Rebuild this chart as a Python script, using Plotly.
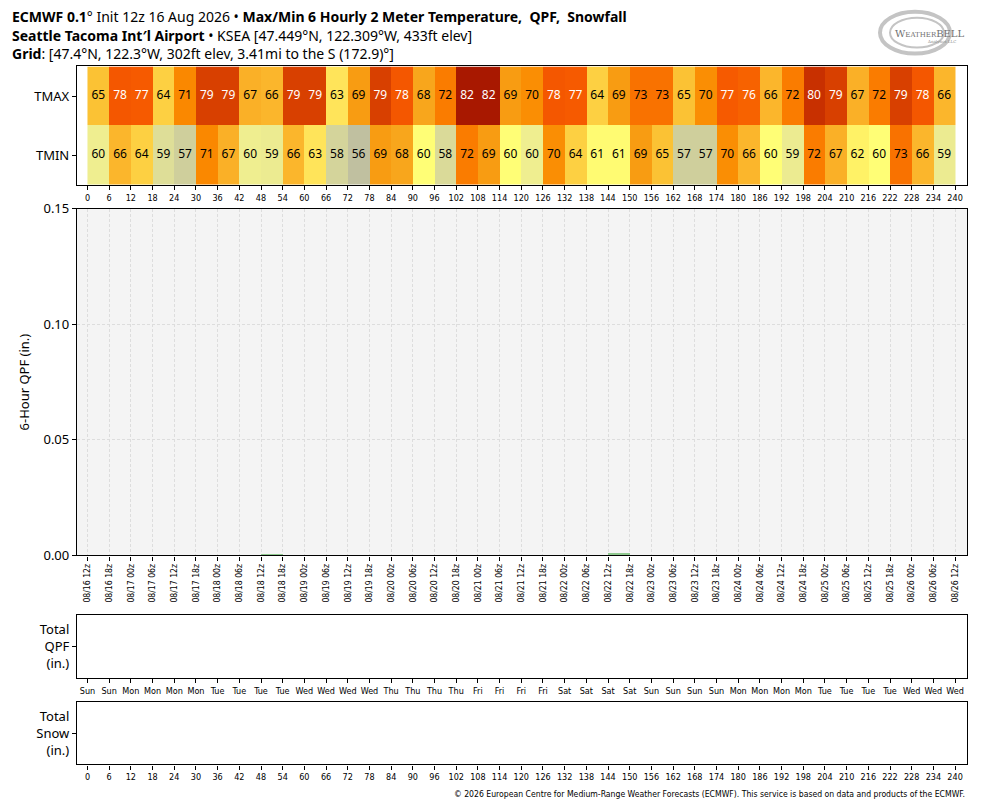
from datetime import datetime, timedelta
import plotly.graph_objects as go

# Forecast setup
init_time = datetime(2026, 8, 16, 12)
forecast_hours = list(range(0, 241, 6))          # 0 ... 240, every 6 h
date_labels = [(init_time + timedelta(hours=h)).strftime('%m/%d %Hz') for h in forecast_hours]
day_labels = [(init_time + timedelta(hours=h)).strftime('%a') for h in forecast_hours]
hour_labels = [str(h) for h in forecast_hours]

# Max / Min temperature for each 6 hour period (F)
tmax = [65, 78, 77, 64, 71, 79, 79, 67, 66, 79, 79, 63, 69, 79, 78, 68, 72, 82, 82, 69,
        70, 78, 77, 64, 69, 73, 73, 65, 70, 77, 76, 66, 72, 80, 79, 67, 72, 79, 78, 66]
tmin = [59.6, 66, 64, 58.6, 57, 71, 67, 59.6, 59.4, 66, 63, 57.6, 56, 69, 68, 60.4, 58.2, 72, 69, 60.4,
        59.6, 70, 64, 61, 61, 69, 65, 57, 57, 70, 66, 60.4, 59.4, 72, 67, 62, 60.4, 73, 66, 59.4]

# 6 hour QPF (in.)
qpf_6h = [0, 0, 0, 0, 0, 0, 0, 0, 0.0004, 0, 0, 0, 0, 0, 0, 0, 0, 0, 0, 0,
          0, 0, 0, 0, 0.001, 0, 0, 0, 0, 0, 0, 0, 0, 0, 0, 0, 0, 0, 0, 0]

# temperature colour table (value -> colour)
temp_stops = [(55.5, '#bcbca2'), (56, '#c0c0a0'), (57, '#cfcf9c'), (58, '#d8d89a'),
              (59, '#e2e296'), (59.5, '#eeed90'), (59.9, '#f0ef8e'), (60.1, '#ffff78'),
              (61, '#fffb72'), (62, '#fff266'), (63, '#ffe45a'), (64, '#fdd042'),
              (65, '#fbc234'), (66, '#fbb62c'), (67, '#fab027'), (68, '#f8a61c'),
              (69, '#f89c12'), (70, '#fa8e04'), (71, '#fa8800'), (72, '#fa7c00'),
              (73, '#f97200'), (76, '#f76200'), (77, '#f65a00'), (78, '#f45700'),
              (79, '#d84000'), (80, '#c83000'), (82, '#a81800')]
zmin, zmax = temp_stops[0][0], temp_stops[-1][0]
colorscale = [[(v - zmin) / (zmax - zmin), c] for v, c in temp_stops]

W, H = 984, 808
FONT = 'Noto Sans'
NARROW = 'Liberation Sans Narrow, DejaVu Sans Condensed, sans-serif'


def px(x):
    return x / W


def py(y):
    # the page comes out a little squashed vertically, so stretch the layout back
    y = (y - 5.25) / 0.982
    return 1 - y / H


mids = [h + 3 for h in forecast_hours[:-1]]

fig = go.Figure()

# temperature strip
fig.add_trace(go.Heatmap(
    z=[tmin, tmax], x=forecast_hours, y=['TMIN', 'TMAX'],
    colorscale=colorscale, zmin=zmin, zmax=zmax, showscale=False,
    hoverinfo='skip', xaxis='x', yaxis='y'))

vals = tmax + tmin
fig.add_trace(go.Scatter(
    x=mids + mids, y=['TMAX'] * len(tmax) + ['TMIN'] * len(tmin),
    mode='text', text=[f'{v:.0f}' for v in vals],
    textfont=dict(family=FONT, size=12,
                  color=['white' if v >= 74 else 'black' for v in vals]),
    hoverinfo='skip', showlegend=False, xaxis='x', yaxis='y'))

# 6 hour QPF bars
fig.add_trace(go.Bar(
    x=mids, y=qpf_6h, width=6, marker=dict(color='#8fc98f', line=dict(width=0)),
    showlegend=False, xaxis='x2', yaxis='y2'))

# empty total panels
fig.add_trace(go.Scatter(x=[], y=[], xaxis='x3', yaxis='y3', showlegend=False))
fig.add_trace(go.Scatter(x=[], y=[], xaxis='x4', yaxis='y4', showlegend=False))

frame = dict(showline=True, mirror=True, linecolor='black', linewidth=1.3,
             ticks='outside', ticklen=4, tickcolor='black', zeroline=False)
grid = dict(showgrid=True, gridcolor='#dddddd', griddash='3px,2px', gridwidth=0.8)
xdom = [px(77), px(967)]
xrange = [-2.9, 243.3]

fig.update_layout(
    width=W, height=H,
    margin=dict(l=0, r=0, t=0, b=0),
    paper_bgcolor='white', plot_bgcolor='white',
    showlegend=False, bargap=0,
    font=dict(family=FONT, color='black'),
    xaxis=dict(domain=xdom, anchor='y', range=xrange, tickvals=forecast_hours,
               ticktext=hour_labels, tickfont=dict(family=NARROW, size=9),
               showgrid=False, **frame),
    yaxis=dict(domain=[py(182), py(63)], anchor='x', range=[-0.5, 1.5],
               tickfont=dict(size=13), showgrid=False, **frame),
    xaxis2=dict(domain=xdom, anchor='y2', range=xrange, tickvals=forecast_hours,
                ticktext=date_labels, tickangle=-90, tickfont=dict(family=NARROW, size=8.6),
                **grid, **frame),
    yaxis2=dict(domain=[py(554), py(206)], anchor='x2', range=[0, 0.15],
                tickvals=[0, 0.05, 0.10, 0.15], tickformat='.2f', tickfont=dict(size=13),
                title=dict(text='6-Hour QPF (in.)', font=dict(size=13), standoff=10),
                **grid, **frame),
    xaxis3=dict(domain=xdom, anchor='y3', range=xrange, tickvals=forecast_hours,
                ticktext=day_labels, tickfont=dict(family=NARROW, size=9),
                showgrid=False, **frame),
    yaxis3=dict(domain=[py(677), py(614)], anchor='x3', range=[0, 1], tickvals=[0.5],
                ticktext=['Total<br>QPF<br>(in.)'], tickfont=dict(size=13),
                showgrid=False, **frame),
    xaxis4=dict(domain=xdom, anchor='y4', range=xrange, tickvals=forecast_hours,
                ticktext=hour_labels, tickfont=dict(family=NARROW, size=9),
                showgrid=False, **frame),
    yaxis4=dict(domain=[py(764), py(701)], anchor='x4', range=[0, 1], tickvals=[0.5],
                ticktext=['Total<br>Snow<br>(in.)'], tickfont=dict(size=13),
                showgrid=False, **frame),
)

# grey background of the QPF panel
fig.add_shape(type='rect', xref='x2 domain', yref='y2 domain', x0=0, x1=1, y0=0, y1=1,
              fillcolor='#f4f4f4', line=dict(width=0), layer='below')

# header lines
header = [
    (13, '<b>ECMWF 0.1</b>° Init 12z 16 Aug 2026 • <b>Max/Min 6 Hourly 2 Meter Temperature,  QPF,  Snowfall</b>'),
    (32, '<b>Seattle Tacoma Int′l Airport</b> • KSEA [47.449°N, 122.309°W, 433ft elev]'),
    (50, '<b>Grid</b>: [47.4°N, 122.3°W, 302ft elev, 3.41mi to the S (172.9)°]'),
]
for y, txt in header:
    fig.add_annotation(text=txt, x=px(10), y=py(y), xref='paper', yref='paper',
                       xanchor='left', yanchor='middle', showarrow=False,
                       font=dict(family=FONT, size=14, color='black'))

# footer
fig.add_annotation(
    text='© 2026 European Centre for Medium-Range Weather Forecasts (ECMWF). '
         'This service is based on data and products of the ECMWF.',
    x=px(967), y=py(794), xref='paper', yref='paper', xanchor='right', yanchor='middle',
    showarrow=False, font=dict(family=NARROW, size=8.6, color='black'))

# logo (rough)
for x0, y0, x1, y1, w in [(880, 8, 950, 50, 4), (890, 14, 944, 44, 2)]:
    fig.add_shape(type='circle', xref='paper', yref='paper',
                  x0=px(x0), x1=px(x1), y0=py(y1), y1=py(y0),
                  line=dict(color='#c4c4c4', width=w))
fig.add_annotation(
    text='W<span style="font-size:7px">EATHER</span>BELL',
    x=px(930), y=py(30), xref='paper', yref='paper', xanchor='center', yanchor='middle',
    showarrow=False, font=dict(family='DejaVu Serif', size=10, color='#707070'))
fig.add_annotation(
    text='Analytics LLC', x=px(958), y=py(38), xref='paper', yref='paper',
    xanchor='right', yanchor='middle', showarrow=False,
    font=dict(family='DejaVu Serif', size=4, color='#909090'))

fig.write_html('out.html', config={'displayModeBar': False},
               post_script="document.body.style.margin='0';")
